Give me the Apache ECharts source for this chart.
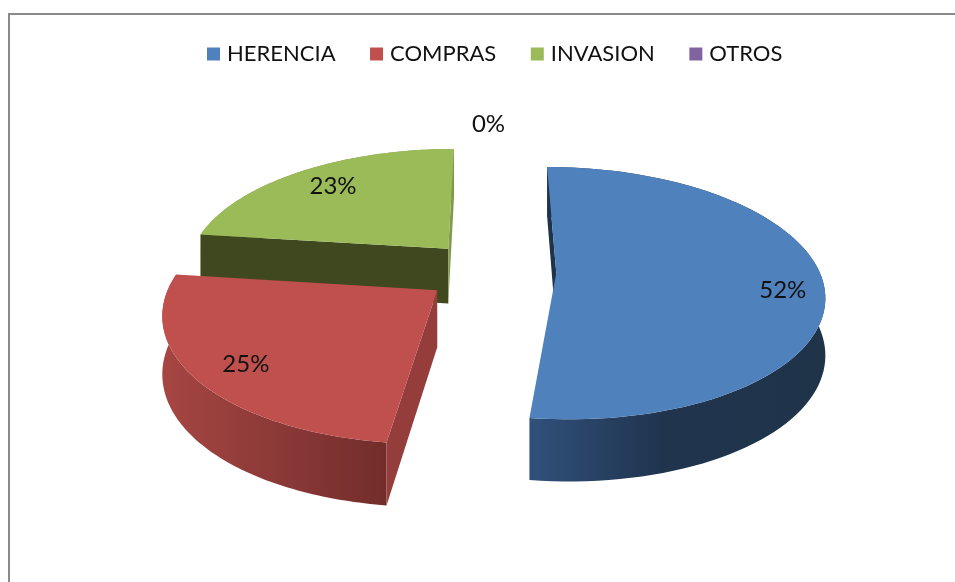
<!DOCTYPE html>
<html><head><meta charset="utf-8">
<style>html,body{margin:0;padding:0;background:#fff}#c{width:955px;height:582px}</style>
<script src="https://cdn.jsdelivr.net/npm/echarts@6/dist/echarts.min.js"></script>
</head><body><div id="c"></div>
<script>
const categories = ['HERENCIA','COMPRAS','INVASION','OTROS'];
const percents = [52, 25, 23, 0];
const topColors = ['#4f81bd','#c0504d','#9bbb59','#8064a2'];
const wallStops = [
  [[0,'#30507b'],[0.45,'#20344e'],[1,'#1f3349']],
  [[0,'#a64643'],[1,'#722d2b']],
  [[0,'#7f9a4a'],[1,'#7f9a4a']],
  [[0,'#5f4b7a'],[1,'#5f4b7a']]
];
const cutColors = [['#1f3349','#1f3349'],['#953d3b','#953d3b'],['#40481f','#7f9a4a'],['#5f4b7a','#5f4b7a']];
const labelRadius = [0.84, 0.84, 0.78, 1.27];
const labelNudge = [[3,11],[9,2],[2,-1],[-2,-18]];
const paintOrder = [3, 1, 0, 2]; // z: back slices first

const view = {cx:490.5, cy:271, rx:263, ry:122.3, persp:0.16, wall:56, wallSlope:6, explode:0.25, startDeg:0};

function project(X, Y) {
  const s = 1/(1+view.persp*Y);
  return {x:view.cx+view.rx*X*s, y:view.cy-view.ry*Y*s};
}
function toScreen(X, Y, down) {
  const p = project(X, Y);
  return [p.x, p.y + (down ? view.wall - view.wallSlope*Y : 0)];
}
const total = percents.reduce((a,b)=>a+b,0);
function sliceAngles(i) {
  let a = view.startDeg;
  for (let k=0;k<i;k++) a += percents[k]/total*360;
  return [a, a+percents[i]/total*360];
}
const rad = d => d*Math.PI/180;

function renderSlice(i) {
  return function () {
    const [a0,a1] = sliceAngles(i);
    const bis = rad((a0+a1)/2);
    const e = percents[i]>0 ? view.explode : 0;
    const ox = e*Math.sin(bis), oy = e*Math.cos(bis);
    const children = [];
    if (percents[i] > 0) {
      const n = 90, arcT=[], arcB=[];
      for (let k=0;k<=n;k++){
        const t = rad(a0+(a1-a0)*k/n);
        const X=ox+Math.sin(t), Y=oy+Math.cos(t);
        arcT.push(toScreen(X,Y,false)); arcB.push(toScreen(X,Y,true));
      }
      const apexT=toScreen(ox,oy,false), apexB=toScreen(ox,oy,true);
      const poly=(pts,fill)=>({type:'polygon',shape:{points:pts},style:{fill:fill,stroke:null},silent:true});
      const grad=new echarts.graphic.LinearGradient(0,0,1,0,wallStops[i].map(s=>({offset:s[0],color:s[1]})));
      children.push(poly(arcT.concat(arcB.slice().reverse()),grad));
      // a radial cut face shows only when it turns towards the viewer
      if (arcT[0][0]-apexT[0] < 0) children.push(poly([apexT,arcT[0],arcB[0],apexB],cutColors[i][0]));
      if (arcT[n][0]-apexT[0] > 0) children.push(poly([apexT,arcT[n],arcB[n],apexB],cutColors[i][1]));
      children.push(poly([apexT].concat(arcT),topColors[i]));
    }
    const lr=labelRadius[i];
    const lp=project(ox+lr*Math.sin(bis), oy+lr*Math.cos(bis));
    children.push({type:'text',style:{x:lp.x+labelNudge[i][0],y:lp.y+labelNudge[i][1],text:percents[i]+'%',fill:'#111',
      font:'24px Lato',textAlign:'center',textVerticalAlign:'middle'},silent:true,z2:10});
    return {type:'group',children:children};
  };
}

const chart = echarts.init(document.getElementById('c'),null,{renderer:'canvas'});
chart.setOption({
  animation:false,
  backgroundColor:'#fff',
  legend:{
    data:categories, top:38, left:202, itemWidth:13, itemHeight:13, itemGap:34.5,
    icon:'rect', selectedMode:false,
    textStyle:{fontFamily:'Lato',fontSize:22,color:'#111',padding:[0,0,0,2]}
  },
  graphic:[{type:'rect',shape:{x:9,y:14,width:1200,height:900},style:{fill:null,stroke:'#8a8a8a',lineWidth:2},silent:true,z:-1}],
  series:categories.map((name,i)=>({
    type:'custom',name:name,coordinateSystem:'none',
    data:[percents[i]],itemStyle:{color:topColors[i]},
    z:2+paintOrder[i],renderItem:renderSlice(i),silent:true
  }))
});
</script></body></html>
